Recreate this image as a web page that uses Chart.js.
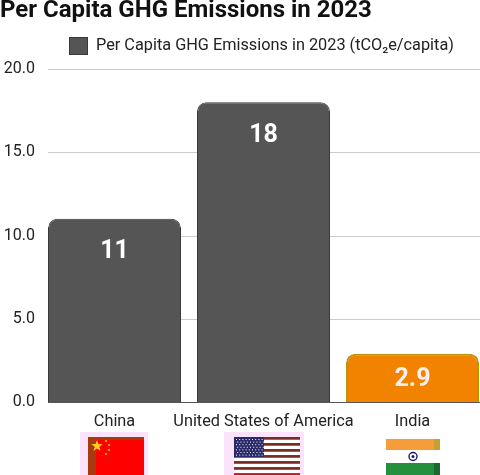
<!DOCTYPE html>
<html><head><meta charset="utf-8">
<script src="https://cdn.jsdelivr.net/npm/chart.js@4"></script>
<style>html,body{margin:0;padding:0;background:#fff;overflow:hidden;}#wrap{width:480px;height:475px;position:relative;overflow:hidden;}</style>
</head><body><div id="wrap"><canvas id="c" width="487" height="475"></canvas></div>
<script>
const titleText = "Per Capita GHG Emissions in 2023";
const seriesLabel = "Per Capita GHG Emissions in 2023 (tCO\u2082e/capita)";
const categories = ["China", "United States of America", "India"];
const values = [11, 18, 2.9];
const valueLabels = ["11", "18", "2.9"];
const yTicks = [0, 5, 10, 15, 20];
const barColors = ["#555555", "#555555", "#f28300"];
const barBorders = ["#3a3a3a", "#3a3a3a", "#b8960c"];

const F = "Roboto, 'Noto Sans', sans-serif";

const grid = {
  id: 'customGrid',
  beforeDatasetsDraw(chart) {
    const ctx = chart.ctx;
    const ys = chart.scales.y;
    ctx.save();
    yTicks.forEach(v => {
      const y = Math.round(ys.getPixelForValue(v)) + 0.5;
      ctx.strokeStyle = v === 0 ? '#555555' : '#cccccc';
      ctx.lineWidth = 1;
      ctx.beginPath();
      ctx.moveTo(48, y);
      ctx.lineTo(480, y);
      ctx.stroke();
    });
    ctx.restore();
  }
};

const extras = {
  id: 'extras',
  afterDraw(chart) {
    const ctx = chart.ctx;
    ctx.save();
    ctx.fillStyle = '#111';
    ctx.font = "bold 24px " + F;
    ctx.textAlign = 'left';
    ctx.textBaseline = 'alphabetic';
    ctx.fillText(titleText, 0, 17);
    ctx.fillStyle = '#555555';
    ctx.strokeStyle = '#3a3a3a';
    ctx.lineWidth = 1;
    ctx.fillRect(69, 37, 19, 18);
    ctx.strokeRect(69.5, 37.5, 18, 17);
    ctx.fillStyle = '#222';
    ctx.font = "16.3px " + F;
    ctx.textBaseline = 'middle';
    ctx.fillText(seriesLabel, 96, 46);
    const meta = chart.getDatasetMeta(0);
    ctx.textAlign = 'center';
    ctx.font = "bold 25px " + F;
    meta.data.forEach((bar, i) => {
      const top = bar.y, bottom = bar.base;
      const y = Math.min(top + 33, (top + bottom) / 2 + 2);
      ctx.fillStyle = i === 2 ? '#fff0ee' : '#ffffff';
      ctx.fillText(valueLabels[i], bar.x, y);
    });
    const xs = chart.scales.x;
    drawChina(ctx, Math.round(xs.getPixelForValue(0) - 26.5), 437, 56, 40);
    drawUSA(ctx, Math.round(xs.getPixelForValue(1) - 29.5), 437, 66, 40);
    drawIndia(ctx, Math.round(xs.getPixelForValue(2) - 26.5), 439, 54, 38);
    ctx.restore();
  }
};

function star(ctx, cx, cy, r, rot) {
  ctx.beginPath();
  for (let k = 0; k < 10; k++) {
    const rr = k % 2 ? r * 0.4 : r;
    const a = rot + k * Math.PI / 5 - Math.PI / 2;
    ctx.lineTo(cx + rr * Math.cos(a), cy + rr * Math.sin(a));
  }
  ctx.closePath();
  ctx.fill();
}
function drawChina(ctx, x, y, w, h) {
  ctx.fillStyle = '#fbe3fb';
  ctx.fillRect(x - 8, y - 5, w + 12, h + 5);
  ctx.fillStyle = '#ff0000';
  ctx.fillRect(x, y, w, h);
  ctx.fillStyle = '#a83a10';
  ctx.fillRect(x, y, 8, h);
  ctx.fillRect(x, y, w, 3);
  ctx.fillStyle = '#ffd21a';
  star(ctx, x + 9, y + 9, 6, 0);
  star(ctx, x + 18, y + 4, 1.6, 0);
  star(ctx, x + 21, y + 8, 1.6, 0);
  star(ctx, x + 21, y + 13, 1.6, 0);
  star(ctx, x + 18, y + 17, 1.6, 0);
}
function drawUSA(ctx, x, y, w, h) {
  ctx.fillStyle = '#fbe3fb';
  ctx.fillRect(x - 10, y - 5, w + 14, h + 5);
  ctx.fillStyle = '#ffffff';
  ctx.fillRect(x, y, w, h);
  const sh = 34 / 13 * 1.15;
  for (let k = 0; k < 14; k += 2) {
    ctx.fillStyle = k > 10 ? '#c0172a' : '#7a2a1e';
    ctx.fillRect(x, y + k * sh, w, sh * 0.9);
  }
  ctx.fillStyle = '#2a2a6a';
  ctx.fillRect(x, y, 30, 20);
  ctx.fillStyle = '#ffffff';
  for (let r = 0; r < 7; r++) for (let c = 0; c < 9; c++) {
    ctx.fillRect(x + 2 + c * 3.2 + (r % 2) * 1.2, y + 2 + r * 2.6, 1, 1);
  }
}
function drawIndia(ctx, x, y, w, h) {
  ctx.fillStyle = '#f59d3a';
  ctx.fillRect(x, y, w, 11);
  ctx.fillStyle = '#c8a030';
  ctx.fillRect(x + w - 6, y, 6, 11);
  ctx.fillStyle = '#24903e';
  ctx.fillRect(x, y + 24, w, h - 24);
  ctx.fillStyle = '#1d6a30';
  ctx.fillRect(x + w - 6, y + 24, 6, h - 24);
  ctx.strokeStyle = '#1a1a6e';
  ctx.lineWidth = 1.4;
  ctx.beginPath();
  ctx.arc(x + w / 2, y + 17.5, 4, 0, Math.PI * 2);
  ctx.stroke();
  ctx.fillStyle = '#1a1a6e';
  ctx.beginPath();
  ctx.arc(x + w / 2, y + 17.5, 1.5, 0, Math.PI * 2);
  ctx.fill();
}

new Chart(document.getElementById('c'), {
  type: 'bar',
  data: {
    labels: categories,
    datasets: [{
      label: seriesLabel,
      data: values,
      backgroundColor: barColors,
      borderColor: barBorders,
      borderWidth: [1, 1, 2],
      borderRadius: { topLeft: 9, topRight: 9, bottomLeft: 0, bottomRight: 0 },
      borderSkipped: 'bottom',
      barPercentage: 0.8926,
      categoryPercentage: 1.0
    }]
  },
  options: {
    responsive: false,
    animation: false,
    devicePixelRatio: 1,
    layout: { padding: { top: 69, right: 0, left: 0, bottom: 0 } },
    plugins: { legend: { display: false }, title: { display: false }, tooltip: { enabled: false } },
    scales: {
      x: {
        grid: { display: false },
        border: { display: false },
        ticks: { color: '#222', font: { family: F, size: 16.3 }, padding: 2, maxRotation: 0, autoSkip: false },
        afterFit(s) { s.height = 73; }
      },
      y: {
        min: 0, max: 20,
        afterBuildTicks(s) { s.ticks = yTicks.map(v => ({ value: v })); },
        grid: { display: false, drawTicks: false },
        border: { display: false },
        ticks: { color: '#222', font: { family: F, size: 16 }, padding: 5, callback: v => Number(v).toFixed(1) },
        afterFit(s) { s.width = 40; }
      }
    }
  },
  plugins: [grid, extras]
});
</script></body></html>
